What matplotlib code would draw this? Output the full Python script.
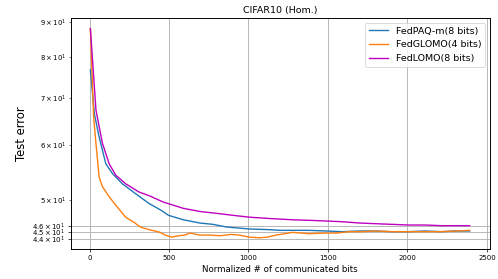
import matplotlib
matplotlib.use("Agg")
import matplotlib.pyplot as plt

# values (x: normalized bits, y: test error)
paq_x = [5, 30, 60, 102, 144, 206, 290, 373, 456, 496, 590, 694, 777, 861, 1006,
         1131, 1194, 1290, 1381, 1490, 1590, 1700, 1798, 1900, 2006, 2110, 2214, 2300, 2392]
paq_y = [76.8, 66.5, 61.6, 56.4, 54.6, 52.8, 51.1, 49.5, 48.3, 47.6, 46.9, 46.4, 46.2, 45.8, 45.5,
         45.4, 45.3, 45.3, 45.3, 45.2, 45.1, 45.2, 45.2, 45.1, 45.1, 45.2, 45.1, 45.2, 45.2]

glomo_x = [5, 25, 40, 60, 81, 123, 165, 227, 280, 319, 360, 392, 444, 475, 517, 560, 600,
           631, 694, 756, 820, 892, 940, 1006, 1069, 1120, 1173, 1230, 1277, 1380, 1485,
           1560, 1631, 1720, 1798, 1900, 2006, 2110, 2214, 2300, 2392]
glomo_y = [88.0, 66.0, 60.3, 54.0, 52.3, 50.6, 49.2, 47.3, 46.5, 45.8, 45.5, 45.3, 45.0, 44.6,
           44.3, 44.5, 44.6, 44.9, 44.6, 44.6, 44.5, 44.7, 44.6, 44.3, 44.2, 44.3, 44.6, 44.8,
           45.0, 44.8, 44.9, 44.9, 45.1, 45.1, 45.2, 45.1, 45.1, 45.1, 45.1, 45.2, 45.3]

lomo_x = [5, 40, 81, 123, 165, 227, 310, 381, 465, 590, 694, 800, 900, 1006, 1131, 1277,
          1400, 1500, 1590, 1700, 1800, 1902, 2006, 2110, 2214, 2300, 2392]
lomo_y = [88.0, 67.3, 60.3, 56.4, 54.3, 52.8, 51.4, 50.7, 49.7, 48.7, 48.2, 47.9, 47.6, 47.3,
          47.1, 46.9, 46.8, 46.7, 46.6, 46.4, 46.3, 46.2, 46.1, 46.1, 46.0, 46.0, 46.0]

major_y = [44, 45, 46]
major_lbl = [r'$\mathdefault{4.4\times10^{1}}$', r'$\mathdefault{4.5\times10^{1}}$',
             r'$\mathdefault{4.6\times10^{1}}$']
minor_y = [50, 60, 70, 80, 90]
minor_lbl = [r'$\mathdefault{%d\times10^{1}}$' % (v // 10) for v in minor_y]
x_ticks = [0, 500, 1000, 1500, 2000, 2500]

fig = plt.figure(figsize=(498 / 62.25, 279 / 62.25), dpi=62.25)
ax = fig.add_axes([0.1416, 0.1075, 0.8424, 0.828])

ax.plot(paq_x, paq_y, color='#1f77b4', lw=1.6, label='FedPAQ-m(8 bits)')
ax.plot(glomo_x, glomo_y, color='#ff7f0e', lw=1.6, label='FedGLOMO(4 bits)')
ax.plot(lomo_x, lomo_y, color='m', lw=1.6, label='FedLOMO(8 bits)')

ax.set_yscale('log')
ax.set_ylim(42.6, 91.1)
ax.set_xlim(-120, 2520)
ax.set_yticks(major_y)
ax.set_yticklabels(major_lbl)
ax.set_yticks(minor_y, minor=True)
ax.set_yticklabels(minor_lbl, minor=True)
ax.set_xticks(x_ticks)
ax.tick_params(axis='both', which='both', labelsize=8)
for sp in ax.spines.values():
    sp.set_linewidth(1.1)

ax.grid(True, which='major', color='#b0b0b0', lw=1.0)

ax.set_title('CIFAR10 (Hom.)', fontsize=11)
ax.set_xlabel('Normalized # of communicated bits', fontsize=10)
ax.set_ylabel('Test error', fontsize=13.5)
ax.legend(loc='upper right', fontsize=11)

fig.savefig('out.png', dpi=62.25)
